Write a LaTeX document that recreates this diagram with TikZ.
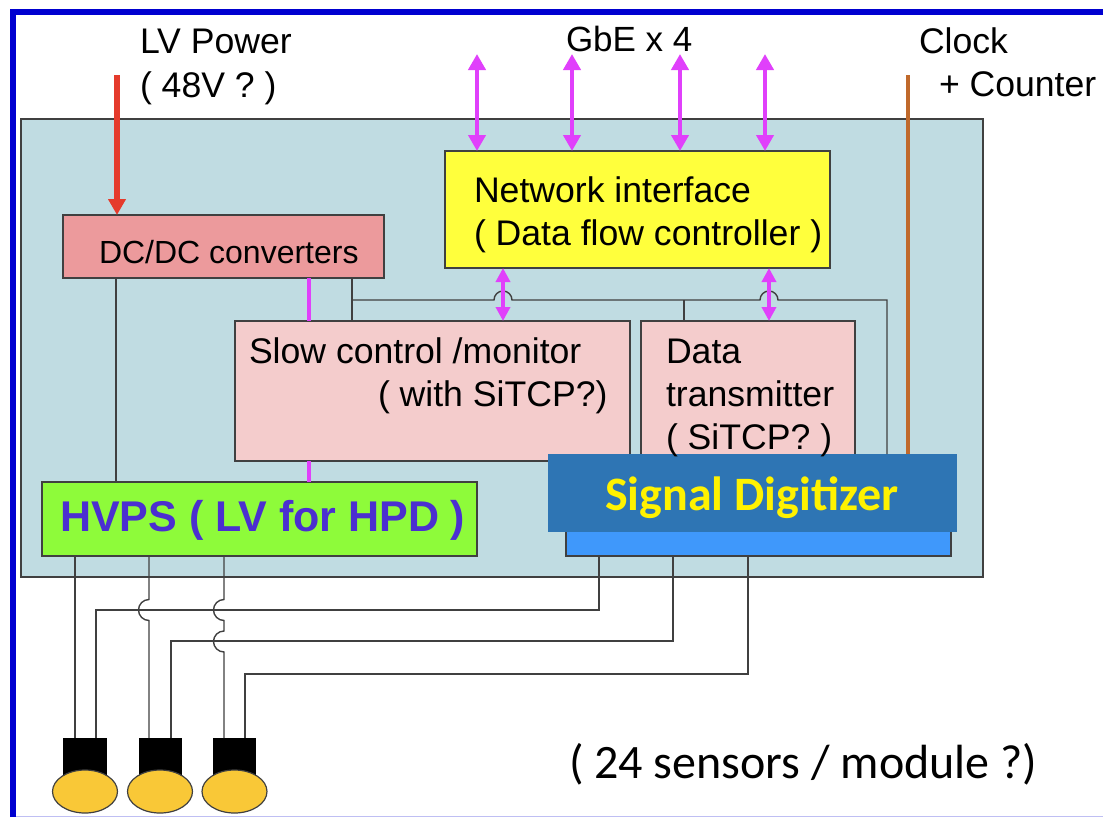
\documentclass[tikz,border=0pt]{standalone}
\usepackage{fontspec}
\setmainfont{Liberation Sans}
\newfontfamily\carl{Carlito}
\usetikzlibrary{arrows.meta,shapes.geometric}
\definecolor{boardc}{HTML}{C0DCE2}
\definecolor{dcc}{HTML}{EC9A9C}
\definecolor{pinkc}{HTML}{F4CCCC}
\definecolor{yelc}{HTML}{FFFF3C}
\definecolor{greenc}{HTML}{8EFB3A}
\definecolor{digc}{HTML}{2E75B4}
\definecolor{digl}{HTML}{3F98FB}
\definecolor{magc}{HTML}{E040FB}
\definecolor{redc}{HTML}{E53B2C}
\definecolor{orc}{HTML}{C0692B}
\definecolor{framec}{HTML}{0000D0}
\definecolor{purc}{HTML}{4B2FD0}
\definecolor{senc}{HTML}{F9C837}
\definecolor{linec}{HTML}{404040}
\tikzset{
 x=1pt,y=-1pt,
 boxc/.style={draw=linec,line width=1.1pt,inner sep=0,outer sep=0},
 lab/.style={anchor=base west,inner sep=0,outer sep=0,font=\fontsize{35.6}{36}\selectfont,text=black},
 wire/.style={draw=linec,line width=1.4pt},
 magline/.style={draw=magc,line width=4pt},
 magarrow/.style={draw=magc,line width=4pt,{Triangle[length=16pt,width=17pt]}-{Triangle[length=16pt,width=17pt]}},
 magsmall/.style={draw=magc,line width=4pt,{Triangle[length=14pt,width=14pt]}-{Triangle[length=14pt,width=14pt]}},
}
\begin{document}
\begin{tikzpicture}
\useasboundingbox (0,0) rectangle (1103,817);
\fill[white] (0,0) rectangle (1103,817);
% frame
\coordinate (fa) at (13,817); \coordinate (fb) at (13,12); \coordinate (fc) at (1103,12);
\draw[framec,line width=6pt] (fa) -- (fb) -- (fc);
\coordinate (fd) at (16,816.3); \coordinate (fe) at (1103,816.3);
\draw[framec!25,line width=1pt] (fd) -- (fe);
% boxes
\node[boxc,fill=boardc,minimum width=962pt,minimum height=458pt] (board) at (502,348) {};
\node[boxc,fill=dcc,minimum width=321pt,minimum height=63pt] (dc) at (223.5,246.5) {};
\node[boxc,fill=yelc,minimum width=385pt,minimum height=117pt] (net) at (637.5,209.5) {};
\node[boxc,fill=pinkc,minimum width=395pt,minimum height=140pt] (slow) at (432.5,391) {};
\node[boxc,fill=pinkc,minimum width=214pt,minimum height=140pt] (data) at (748,391) {};
\node[boxc,fill=greenc,minimum width=435pt,minimum height=74pt] (hv) at (259.5,519) {};
\node[boxc,fill=digl,minimum width=385pt,minimum height=50pt] (digb) at (758.5,531) {};
\node[inner sep=0,outer sep=0,fill=digc,minimum width=409pt,minimum height=78pt] (dig) at (752.5,493) {};
% sensors
\node[inner sep=0,outer sep=0,fill=black,minimum width=44pt,minimum height=44pt] (s1) at (85,760) {};
\node[inner sep=0,outer sep=0,fill=black,minimum width=43pt,minimum height=44pt] (s2) at (160.5,760) {};
\node[inner sep=0,outer sep=0,fill=black,minimum width=43pt,minimum height=44pt] (s3) at (234.5,760) {};
\node[ellipse,draw=linec,line width=1.2pt,fill=senc,inner sep=0,minimum width=65pt,minimum height=43pt] (e1) at (85,791.5) {};
\node[ellipse,draw=linec,line width=1.2pt,fill=senc,inner sep=0,minimum width=65pt,minimum height=43pt] (e2) at (160,791.5) {};
\node[ellipse,draw=linec,line width=1.2pt,fill=senc,inner sep=0,minimum width=65pt,minimum height=43pt] (e3) at (234.5,791.5) {};
% free ends
\coordinate (lv) at (117,75);
\coordinate (ck) at (908,75);
\coordinate (g1) at (477,54); \coordinate (g2) at (572,54); \coordinate (g3) at (680,54); \coordinate (g4) at (765,54);
% power and clock
\draw[redc,line width=5.5pt,-{Triangle[length=16pt,width=17pt]}] (lv) -- (lv |- dc.north);
\draw[orc,line width=4pt] (ck) -- (ck |- dig.north);
% GbE
\foreach \g in {g1,g2,g3,g4} \draw[magarrow] (\g) -- (\g |- net.north);
% control lines
\coordinate (m1) at (309,0);
\draw[magline] (m1 |- dc.south) -- (m1 |- slow.north);
\draw[magline] (m1 |- slow.south) -- (m1 |- hv.north);
\coordinate (pw) at (116,0);
\draw[wire] (pw |- dc.south) -- (pw |- hv.north);
% bus with jumps
\coordinate (b0) at (352,0); \coordinate (bd) at (684,0); \coordinate (be) at (887,300);
\draw[wire] (b0 |- dc.south) -- (b0 |- slow.north);
\draw[wire] (352,300) -- (494,300) arc[start angle=180,end angle=0,radius=9pt] -- (760,300) arc[start angle=180,end angle=0,radius=9pt] -- (be) -- (be |- dig.north);
\draw[wire] (bd |- slow.north) -- (684,300);
\coordinate (a1) at (503,0); \coordinate (a2) at (769,0);
\draw[magsmall] (a1 |- net.south) -- (a1 |- slow.north);
\draw[magsmall] (a2 |- net.south) -- (a2 |- data.north);
% signal lines
\coordinate (t1) at (599,0); \coordinate (t2) at (673,0); \coordinate (t3) at (748,0);
\coordinate (r1) at (96,0); \coordinate (r2) at (171,0); \coordinate (r3) at (245,0);
\draw[wire] (t1 |- digb.south) -- (599,610) -- (96,610) -- (r1 |- s1.north);
\draw[wire] (t2 |- digb.south) -- (673,641) -- (171,641) -- (r2 |- s2.north);
\draw[wire] (t3 |- digb.south) -- (748,674) -- (245,674) -- (r3 |- s3.north);
% HV lines
\coordinate (h1) at (75,0); \coordinate (h2) at (149,0); \coordinate (h3) at (224,0);
\draw[wire] (h1 |- hv.south) -- (h1 |- s1.north);
\draw[wire] (h2 |- hv.south) -- (149,599.5) arc[start angle=90,end angle=270,radius=10.5pt] -- (h2 |- s2.north);
\draw[wire] (h3 |- hv.south) -- (224,599.5) arc[start angle=90,end angle=270,radius=10.5pt] -- (224,631) arc[start angle=90,end angle=270,radius=10.5pt] -- (h3 |- s3.north);
% labels
\node[lab] (tlv) at (140,53) {LV Power};
\node[lab] (t48) at (140,97) {( 48V ? )};
\node[lab,font=\fontsize{35}{35}\selectfont] (tgb) at (566,51) {GbE x 4};
\node[lab] (tcl) at (919,53) {Clock};
\node[lab] (tco) at (939,96) {+ Counter};
\node[lab] (tn1) at (474,202) {Network interface};
\node[lab] (tn2) at (474,245) {( Data flow controller )};
\node[lab,font=\fontsize{32}{32}\selectfont] (tdc) at (99,263) {DC/DC converters};
\node[lab] (ts1) at (249,363) {Slow control /monitor};
\node[lab] (ts2) at (378,406) {( with SiTCP?)};
\node[lab] (td1) at (666,363) {Data};
\node[lab] (td2) at (666,406) {transmitter};
\node[lab] (td3) at (666,449) {( SiTCP? )};
\node[lab,font=\fontsize{43}{43}\selectfont\bfseries,text=purc] (thv) at (60,531) {HVPS ( LV for HPD )};
\node[lab,font=\carl\fontsize{48}{48}\selectfont\bfseries,text=yellow] (tdg) at (605,510) {Signal Digitizer};
\node[lab,font=\carl\fontsize{48}{48}\selectfont] (t24) at (569,778) {( 24 sensors / module ?)};
\end{tikzpicture}
\end{document}
